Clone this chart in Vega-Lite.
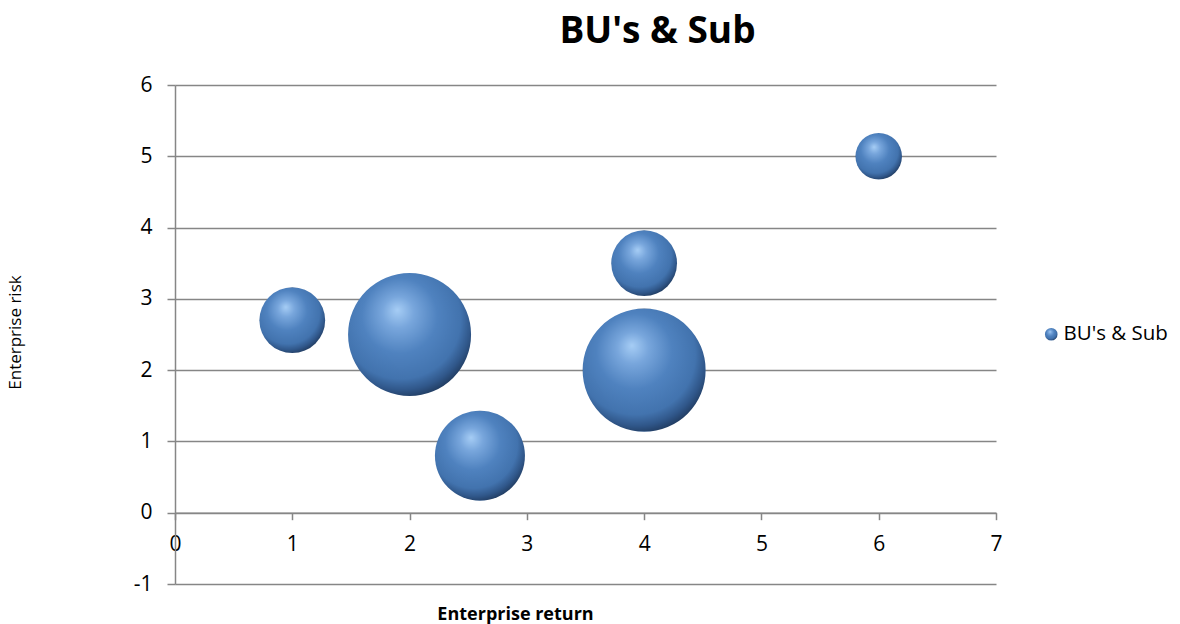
{
  "$schema": "https://vega.github.io/schema/vega-lite/v6.json",
  "width": 821,
  "height": 499,
  "autosize": "none",
  "padding": {"left": 175, "top": 85, "right": 184, "bottom": 40},
  "background": "white",
  "config": {
    "view": {"stroke": null},
    "font": "Open Sans"
  },
  "title": {
    "text": "BU's & Sub",
    "font": "Open Sans",
    "fontSize": 37,
    "fontWeight": "bold",
    "color": "#000000",
    "anchor": "middle",
    "frame": "group",
    "dx": 72,
    "baseline": "alphabetic",
    "offset": -6
  },
  "data": {
    "values": [
      {"series": "BU's & Sub", "return": 1, "risk": 2.7, "bubble": 2},
      {"series": "BU's & Sub", "return": 2, "risk": 2.5, "bubble": 7},
      {"series": "BU's & Sub", "return": 2.6, "risk": 0.8, "bubble": 3.75},
      {"series": "BU's & Sub", "return": 4, "risk": 3.5, "bubble": 2},
      {"series": "BU's & Sub", "return": 4, "risk": 2, "bubble": 7},
      {"series": "BU's & Sub", "return": 6, "risk": 5, "bubble": 1}
    ]
  },
  "mark": {
    "type": "point",
    "filled": true,
    "opacity": 1,
    "strokeWidth": 0,
    "fill": {
      "gradient": "radial",
      "x1": 0.4, "y1": 0.3, "r1": 0,
      "x2": 0.44, "y2": 0.4, "r2": 0.64,
      "stops": [
        {"offset": 0, "color": "#a6cdf5"},
        {"offset": 0.2, "color": "#78a6dc"},
        {"offset": 0.48, "color": "#4f82bf"},
        {"offset": 0.76, "color": "#4273ae"},
        {"offset": 0.88, "color": "#30578a"},
        {"offset": 1, "color": "#1d3556"}
      ]
    }
  },
  "encoding": {
    "x": {
      "field": "return",
      "type": "quantitative",
      "scale": {"domain": [0, 7], "nice": false, "zero": false},
      "axis": {
        "title": "Enterprise return",
        "titleFont": "Open Sans",
        "titleFontSize": 18,
        "titleFontWeight": "bold",
        "titleColor": "#000000",
        "titleX": 340,
        "titleY": 107,
        "titleAlign": "center",
        "titleBaseline": "alphabetic",
        "offset": -71.3,
        "values": [0, 1, 2, 3, 4, 5, 6, 7],
        "labelExpr": "'' + datum.value",
        "grid": false,
        "domainColor": "#868686",
        "domainWidth": 1.5,
        "tickColor": "#868686",
        "tickWidth": 1.5,
        "tickSize": 7,
        "labelFont": "Open Sans",
        "labelFontSize": 21,
        "labelColor": "#000000",
        "labelPadding": 14,
        "labelFlush": false,
        "labelOverlap": false
      }
    },
    "y": {
      "field": "risk",
      "type": "quantitative",
      "scale": {"domain": [-1, 6], "nice": false, "zero": false},
      "axis": {
        "title": "Enterprise risk",
        "titleFont": "Open Sans",
        "titleFontSize": 17,
        "titleFontWeight": "normal",
        "titleColor": "#000000",
        "titleAngle": -90,
        "titleX": -160,
        "titleY": 247,
        "titleAlign": "center",
        "titleBaseline": "middle",
        "values": [-1, 0, 1, 2, 3, 4, 5, 6],
        "labelExpr": "'' + datum.value",
        "grid": true,
        "gridColor": "#868686",
        "gridWidth": 1.5,
        "domainColor": "#868686",
        "domainWidth": 1.5,
        "tickColor": "#868686",
        "tickWidth": 1.5,
        "tickSize": 8,
        "labelFont": "Open Sans",
        "labelFontSize": 21,
        "labelColor": "#000000",
        "labelPadding": 15,
        "labelFlush": false,
        "labelOverlap": false
      }
    },
    "size": {
      "field": "bubble",
      "type": "quantitative",
      "scale": {"type": "linear", "domain": [0, 7], "range": [0, 15129], "zero": true},
      "legend": null
    },
    "shape": {
      "field": "series",
      "type": "nominal",
      "scale": {"range": ["circle"]},
      "legend": {
        "title": null,
        "orient": "none",
        "legendX": 866,
        "legendY": 239,
        "symbolSize": 160,
        "symbolType": "circle",
        "symbolStrokeWidth": 0,
        "symbolFillColor": "#4a7ebb",
        "labelFont": "Open Sans",
        "labelFontSize": 20.5,
        "labelColor": "#000000",
        "labelOffset": 2,
        "encode": {
          "symbols": {
            "update": {
              "fill": {"value": {
                "gradient": "radial",
                "x1": 0.4, "y1": 0.3, "r1": 0,
                "x2": 0.45, "y2": 0.42, "r2": 0.62,
                "stops": [
                  {"offset": 0, "color": "#a9d0f7"},
                  {"offset": 0.3, "color": "#6a9bd6"},
                  {"offset": 0.7, "color": "#3d6ba3"},
                  {"offset": 1, "color": "#1a3050"}
                ]
              }},
              "strokeWidth": {"value": 0},
              "opacity": {"value": 1}
            }
          }
        }
      }
    }
  }
}
